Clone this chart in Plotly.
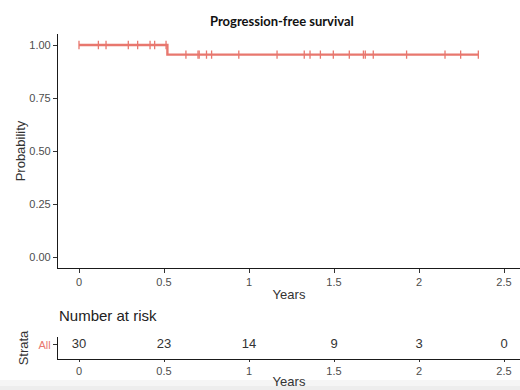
import numpy as np
import plotly.graph_objects as go

# ---- data ----
step_times = [0.0, 0.52, 2.35]
step_surv = [1.0, 0.9545, 0.9545]
censor_times = [0.0, 0.114, 0.159, 0.29, 0.345, 0.418, 0.445, 0.512,
                0.629, 0.70, 0.707, 0.75, 0.78, 0.94, 1.165, 1.325, 1.359,
                1.42, 1.496, 1.59, 1.673, 1.684, 1.731, 1.927, 2.153, 2.245, 2.349]
risk_times = [0, 0.5, 1, 1.5, 2, 2.5]
risk_counts = [30, 23, 14, 9, 3, 0]
x_tickvals = [0, 0.5, 1, 1.5, 2, 2.5]
x_ticktext = ["0", "0.5", "1", "1.5", "2", "2.5"]
y_tickvals = [0, 0.25, 0.5, 0.75, 1.0]
y_ticktext = ["0.00", "0.25", "0.50", "0.75", "1.00"]
strata = ["All"]

COL = "#E8776E"
W, H = 520, 390

def surv_at(t):
    idx = np.searchsorted(step_times, t, side="right") - 1
    return step_surv[max(idx, 0)]

censor_surv = [surv_at(t) for t in censor_times]

fig = go.Figure()
fig.add_trace(go.Scatter(x=step_times, y=step_surv, mode="lines",
                         line=dict(color=COL, width=2.4, shape="hv"),
                         xaxis="x", yaxis="y", showlegend=False, hoverinfo="skip"))
fig.add_trace(go.Scatter(x=censor_times, y=censor_surv, mode="markers",
                         marker=dict(symbol="line-ns", size=6, color=COL,
                                     line=dict(color=COL, width=1.3)),
                         xaxis="x", yaxis="y", showlegend=False, hoverinfo="skip"))
fig.add_trace(go.Scatter(x=risk_times, y=[strata[0]] * len(risk_times), mode="text",
                         text=[str(c) for c in risk_counts],
                         textfont=dict(family="Liberation Sans, Arial", size=13, color="#333333"),
                         xaxis="x2", yaxis="y2", showlegend=False, hoverinfo="skip"))

x0_px = 79.0
px_per_unit = 170.0
x_lo = (58 - x0_px) / px_per_unit
x_hi = (W - x0_px) / px_per_unit
dom_x = [58 / W, 1.0]

def ydom(top_px, bot_px):
    return [1 - bot_px / H, 1 - top_px / H]

axis_common = dict(showgrid=False, zeroline=False, showline=True, linecolor="#1a1a1a",
                   linewidth=1.2, ticks="outside", ticklen=4, tickcolor="#333333",
                   automargin=False,
                   tickfont=dict(family="Liberation Sans, Arial", size=11, color="#4D4D4D"))
axis_common2 = {k: v for k, v in axis_common.items() if k not in ("tickfont", "ticklen")}

fig.update_layout(
    width=W, height=H, margin=dict(l=0, r=0, t=0, b=0),
    paper_bgcolor="white", plot_bgcolor="white",
    xaxis=dict(domain=dom_x, range=[x_lo, x_hi], anchor="y",
               tickvals=x_tickvals, ticktext=x_ticktext,
               title=dict(text="Years", standoff=2,
                          font=dict(family="Liberation Sans, Arial", size=13, color="#333333")),
               **axis_common),
    yaxis=dict(domain=ydom(34.4, 267.6), range=[-0.05, 1.05], anchor="x",
               tickvals=y_tickvals, ticktext=y_ticktext,
               title=dict(text="Probability", standoff=0,
                          font=dict(family="Liberation Sans, Arial", size=13, color="#333333")),
               **axis_common),
    xaxis2=dict(domain=dom_x, range=[x_lo, x_hi], anchor="y2",
                tickvals=x_tickvals, ticktext=x_ticktext, ticklen=2,
                tickfont=dict(family="Liberation Sans, Arial", size=11, color="#4D4D4D"),
                title=dict(text="Years", standoff=0,
                           font=dict(family="Liberation Sans, Arial", size=13, color="#333333")),
                **axis_common2),
    yaxis2=dict(domain=ydom(337, 359), anchor="x2", type="category", range=[-0.65, 0.35],
                tickvals=strata, ticktext=strata, ticklen=4,
                tickfont=dict(family="Liberation Sans, Arial", size=11, color=COL),
                title=dict(text="Strata", standoff=6,
                           font=dict(family="Liberation Sans, Arial", size=13, color="#333333")),
                **axis_common2),
    annotations=[
        dict(text="<b>Progression-free survival</b>", x=282 / W, y=1 - 21 / H,
             xref="paper", yref="paper", showarrow=False, xanchor="center", yanchor="middle",
             font=dict(family="Lato, Open Sans", size=13, color="#111111")),
        dict(text="Number at risk", x=57 / W, y=1 - 315 / H, xref="paper", yref="paper",
             showarrow=False, xanchor="left", yanchor="middle",
             font=dict(family="Liberation Sans, Arial", size=15, color="#222222")),
    ],
    shapes=[
        dict(type="rect", xref="paper", yref="paper", x0=0, x1=1, y0=0, y1=4 / H,
             fillcolor="#EDEDED", line=dict(width=0), layer="below"),
        dict(type="rect", xref="paper", yref="paper", x0=0, x1=1, y0=4 / H, y1=10 / H,
             fillcolor="#F5F5F5", line=dict(width=0), layer="below"),
    ],
)

fig.write_html("out.html", config={"displayModeBar": False},
               post_script="document.body.style.margin='0px';document.body.style.overflow='hidden';")
